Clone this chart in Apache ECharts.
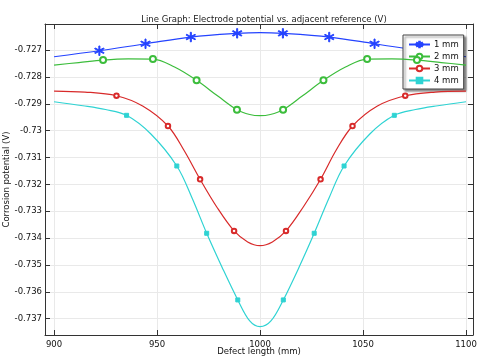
<!DOCTYPE html>
<html>
<head>
<meta charset="utf-8">
<script src="https://cdn.jsdelivr.net/npm/echarts@6/dist/echarts.min.js"></script>
<style>
html,body{margin:0;padding:0;background:#fff;}
#chart{width:481px;height:363px;}
</style>
</head>
<body>
<div id="chart"></div>
<script>
// ---- data ----
const xTicks = [900, 950, 1000, 1050, 1100];
const yTicks = [-0.737, -0.736, -0.735, -0.734, -0.733, -0.732, -0.731, -0.73, -0.729, -0.728, -0.727];
const seriesNames = ['1 mm', '2 mm', '3 mm', '4 mm'];

const mm1X = [900, 922, 944.4, 966.4, 988.9, 1000, 1011.1, 1033.6, 1055.6, 1078, 1100];
const mm1Y = [-0.727249, -0.727026, -0.726766, -0.726516, -0.726378, -0.726349, -0.726378, -0.726516, -0.726766, -0.727026, -0.727249];
const mm1Mark = [0, 1, 1, 1, 1, 0, 1, 1, 1, 1, 0];

const mm2X = [900, 912, 923.8, 936, 948, 958.5, 969.2, 979.5, 988.8, 995, 1000, 1005, 1011.2, 1020.5, 1030.8, 1041.5, 1052, 1064, 1076.2, 1088, 1100];
const mm2Y = [-0.727558, -0.727465, -0.727372, -0.727328, -0.727335, -0.727633, -0.728128, -0.728712, -0.729222, -0.7294, -0.729445, -0.7294, -0.729222, -0.728712, -0.728128, -0.727633, -0.727335, -0.727328, -0.727372, -0.727465, -0.727558];
const mm2Mark = [0, 0, 1, 0, 1, 0, 1, 0, 1, 0, 0, 0, 1, 0, 1, 0, 1, 0, 1, 0, 0];

const mm3X = [900, 915, 930.3, 943, 955.3, 963, 970.9, 979, 987.4, 994, 1000, 1006, 1012.6, 1021, 1029.4, 1037, 1044.9, 1057, 1070.5, 1085, 1100];
const mm3Y = [-0.728526, -0.728563, -0.728701, -0.729084, -0.729828, -0.730722, -0.731812, -0.732843, -0.733736, -0.734146, -0.734283, -0.734146, -0.733736, -0.732843, -0.731812, -0.730722, -0.729828, -0.729084, -0.728701, -0.728563, -0.728526];
const mm3Mark = [0, 0, 1, 0, 1, 0, 1, 0, 1, 0, 0, 0, 1, 0, 1, 0, 1, 0, 1, 0, 0];

const mm4X = [900, 914, 925, 935.2, 947, 959.6, 967, 974.1, 981.5, 989.2, 995, 1000, 1005.3, 1011.3, 1019, 1026.3, 1033.5, 1040.8, 1053.3, 1065.2, 1075.5, 1086.3, 1100];
const mm4Y = [-0.728924, -0.729073, -0.729214, -0.72943, -0.730126, -0.731317, -0.732508, -0.733822, -0.735076, -0.736304, -0.737086, -0.737298, -0.737086, -0.736304, -0.735076, -0.733822, -0.732508, -0.731317, -0.730126, -0.72943, -0.729214, -0.729073, -0.728924];
const mm4Mark = [0, 0, 0, 1, 0, 1, 0, 1, 0, 1, 0, 0, 0, 1, 0, 1, 0, 1, 0, 1, 0, 0, 0];

// ---- styling ----
const colors = ['#2443ff', '#3cbd3c', '#d82a2a', '#2fd3d3'];
const asterisk = 'path://M9,0 L11,0 L11,20 L9,20 Z M1.84,4.134 L19.16,14.134 L18.16,15.866 L0.84,5.866 Z M0.84,14.134 L18.16,4.134 L19.16,5.866 L1.84,15.866 Z';
const symbols = [asterisk, 'emptyCircle', 'emptyCircle', 'rect'];
const symbolSizes = [9.5, 6, 4.5, 4];
const FONT = 'DejaVu Sans';

function build(xs, ys, marks) {
  return xs.map((x, i) => marks[i] ? [x, ys[i]] : { value: [x, ys[i]], symbol: 'none' });
}
const allX = [mm1X, mm2X, mm3X, mm4X];
const allY = [mm1Y, mm2Y, mm3Y, mm4Y];
const allM = [mm1Mark, mm2Mark, mm3Mark, mm4Mark];

const series = seriesNames.map((name, i) => ({
  name: name,
  type: 'line',
  xAxisIndex: 0,
  yAxisIndex: 0,
  smooth: 0.35,
  data: build(allX[i], allY[i], allM[i]),
  symbol: symbols[i],
  symbolSize: symbolSizes[i],
  showSymbol: true,
  lineStyle: { color: colors[i], width: 1.2 },
  itemStyle: { color: colors[i], borderColor: colors[i], borderWidth: 1 },
  emphasis: { disabled: true },
  animation: false,
  z: 3 + i
}));

const xMin = 895.6, xMax = 1103.4;
const yMin = -0.73761, yMax = -0.72603;
const axisColor = '#333';
const gridColor = '#e9e9e9';

const chart = echarts.init(document.getElementById('chart'), null, { renderer: 'canvas' });
chart.setOption({
  animation: false,
  backgroundColor: '#fff',
  title: {
    text: 'Line Graph: Electrode potential vs. adjacent reference (V)',
    left: 259,
    top: 10,
    textAlign: 'center',
    textStyle: { fontFamily: FONT, fontSize: 8.5, fontWeight: 'normal', color: '#222' }
  },
  grid: { left: 45, right: 8, top: 24, bottom: 28, containLabel: false, outerBoundsMode: 'none' },
  legend: {
    data: seriesNames,
    orient: 'vertical',
    left: 403,
    top: 35,
    padding: [5, 5, 4, 5],
    itemWidth: 21,
    itemHeight: 7,
    itemGap: 3,
    backgroundColor: '#fff',
    borderColor: '#444',
    borderWidth: 1,
    shadowColor: 'rgba(0,0,0,0.45)',
    shadowBlur: 2,
    shadowOffsetX: 2,
    shadowOffsetY: 2,
    textStyle: { fontFamily: FONT, fontSize: 8.5, color: '#111', padding: [0, 0, 0, -1] }
  },
  xAxis: [{
    type: 'value',
    min: xMin, max: xMax,
    position: 'bottom',
    name: 'Defect length (mm)',
    nameLocation: 'middle',
    nameGap: 12,
    nameMoveOverlap: false,
    nameTextStyle: { fontFamily: FONT, fontSize: 8.5, color: '#111', verticalAlign: 'top' },
    axisLine: { show: true, onZero: false, lineStyle: { color: axisColor, width: 1 } },
    axisTick: { show: true, inside: true, length: 5, customValues: xTicks, lineStyle: { color: axisColor } },
    axisLabel: { customValues: xTicks, margin: 5, fontFamily: FONT, fontSize: 8.5, color: '#111',
      formatter: v => String(v) },
    splitLine: { show: true, customValues: xTicks, lineStyle: { color: gridColor, width: 1 } }
  }, {
    type: 'value',
    min: xMin, max: xMax,
    position: 'top',
    axisLine: { show: true, onZero: false, lineStyle: { color: axisColor, width: 1 } },
    axisTick: { show: true, inside: true, length: 5, customValues: xTicks, lineStyle: { color: axisColor } },
    axisLabel: { show: false },
    splitLine: { show: false }
  }],
  yAxis: [{
    type: 'value',
    min: yMin, max: yMax,
    position: 'left',
    name: 'Corrosion potential (V)',
    nameLocation: 'middle',
    nameGap: 34,
    nameMoveOverlap: false,
    nameRotate: 90,
    nameTextStyle: { fontFamily: FONT, fontSize: 8.5, color: '#111', verticalAlign: 'bottom' },
    axisLine: { show: true, onZero: false, lineStyle: { color: axisColor, width: 1 } },
    axisTick: { show: true, inside: true, length: 5, customValues: yTicks, lineStyle: { color: axisColor } },
    axisLabel: { customValues: yTicks, margin: 3, fontFamily: FONT, fontSize: 8.5, color: '#111',
      formatter: v => String(Math.round(v * 1000) / 1000) },
    splitLine: { show: true, customValues: yTicks, lineStyle: { color: gridColor, width: 1 } }
  }, {
    type: 'value',
    min: yMin, max: yMax,
    position: 'right',
    axisLine: { show: true, onZero: false, lineStyle: { color: axisColor, width: 1 } },
    axisTick: { show: true, inside: true, length: 5, customValues: yTicks, lineStyle: { color: axisColor } },
    axisLabel: { show: false },
    splitLine: { show: false }
  }],
  series: series
});
</script>
</body>
</html>
